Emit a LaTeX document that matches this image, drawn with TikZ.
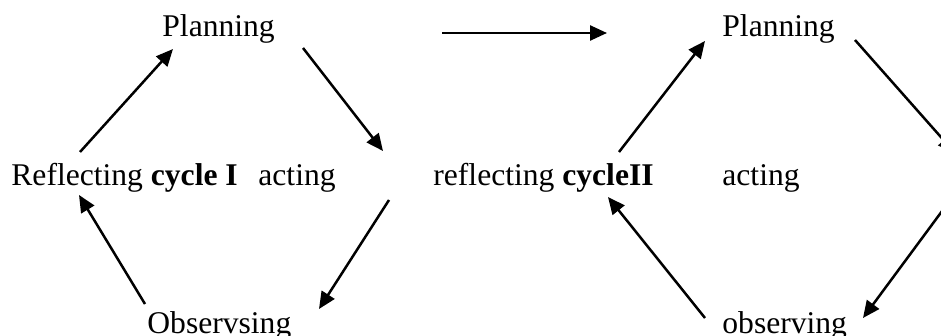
\documentclass[tikz,border=0pt]{standalone}
\usepackage{fontspec}
\setmainfont{Liberation Serif}
\usetikzlibrary{arrows.meta}
\begin{document}
\begin{tikzpicture}[x=0.5pt,y=-0.5pt,
  lbl/.style={anchor=base west, inner sep=0pt, font=\fontsize{15.8pt}{19pt}\selectfont},
  arr/.style={line width=1.25pt, -{Triangle[length=8.5pt,width=7.5pt]}}]
\useasboundingbox (0,0) rectangle (941,336);
\clip (0,0) rectangle (941,336);
% cycle I labels
\node[lbl] (plan1) at (162,37) {Planning};
\node[lbl] (refl1) at (11,186) {Reflecting \textbf{cycle I}};
\node[lbl] (act1) at (258,186) {acting};
\node[lbl] (obs1) at (147,333) {Observsing};
% cycle II labels
\node[lbl] (plan2) at (722,37) {Planning};
\node[lbl] (refl2) at (433,186) {reflecting \textbf{cycleII}};
\node[lbl] (act2) at (722,186) {acting};
\node[lbl] (obs2) at (722,333) {observing};
% arrow end points
\coordinate (a1s) at (80,152);  \coordinate (a1e) at (173,49);
\coordinate (a2s) at (303,48);  \coordinate (a2e) at (383,151);
\coordinate (a3s) at (389,200); \coordinate (a3e) at (319,309);
\coordinate (a4s) at (145,304); \coordinate (a4e) at (79,195);
\coordinate (ms) at (442,33);   \coordinate (me) at (607,33);
\coordinate (b1s) at (619,152); \coordinate (b1e) at (705,41);
\coordinate (b2s) at (855,40);  \coordinate (b2e) at (955,153);
\coordinate (b3s) at (948,203); \coordinate (b3e) at (863,318);
\coordinate (b4s) at (705,318); \coordinate (b4e) at (608,197);
% arrows
\draw[arr] (a1s) -- (a1e);
\draw[arr] (a2s) -- (a2e);
\draw[arr] (a3s) -- (a3e);
\draw[arr] (a4s) -- (a4e);
\draw[arr] (ms) -- (me);
\draw[arr] (b1s) -- (b1e);
\draw[arr] (b2s) -- (b2e);
\draw[arr] (b3s) -- (b3e);
\draw[arr] (b4s) -- (b4e);
\end{tikzpicture}
\end{document}
